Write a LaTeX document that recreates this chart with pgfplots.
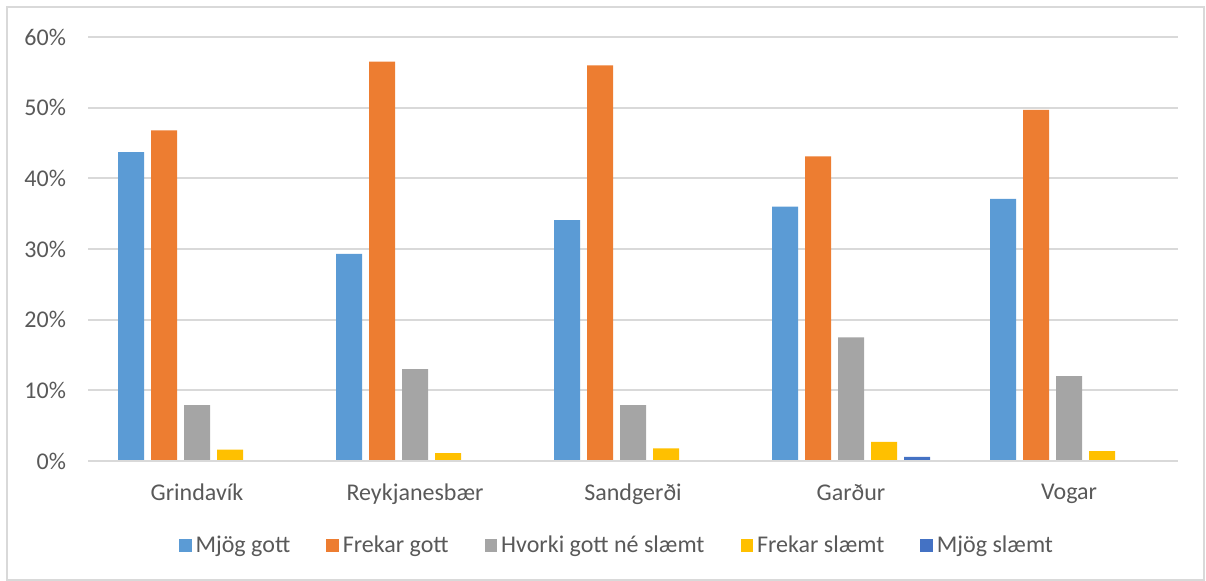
\documentclass[border=0pt]{standalone}
\usepackage{pgfplots}
\pgfplotsset{compat=1.18}
\usepackage{fontspec}
\setmainfont{Carlito}
\definecolor{cblue}{RGB}{91,155,213}
\definecolor{corange}{RGB}{237,125,49}
\definecolor{cgray}{RGB}{165,165,165}
\definecolor{cyellow}{RGB}{255,192,0}
\definecolor{cdblue}{RGB}{68,114,196}
\definecolor{gridgray}{RGB}{217,217,217}
\definecolor{textgray}{RGB}{89,89,89}
\begin{document}
% 1 px of the reference = 0.5pt
\begin{tikzpicture}
\useasboundingbox (0pt,0pt) rectangle (603pt,290.5pt);
\draw[gridgray, line width=1pt] (3.5pt,0.5pt) rectangle (602pt,287pt);
\begin{axis}[
  at={(44pt,60pt)}, anchor=south west,
  scale only axis,
  width=545pt, height=212pt,
  xmin=-0.5, xmax=4.5,
  ymin=0, ymax=60,
  ytick={0,10,...,60},
  yticklabel={\pgfmathprintnumber{\tick}\%},
  xtick={0,1,2,3,4},
  xticklabels={Grindavík,Reykjanesbær,Sandgerði,Garður,Vogar},
  /pgf/number format/assume math mode=true,
  ymajorgrids, grid style={gridgray, line width=1pt},
  axis line style={draw=none},
  axis x line*=bottom,
  major tick length=0pt,
  tick label style={font=\fontsize{12}{14}\selectfont, text=textgray},
  yticklabel style={xshift=-7.5pt},
  xticklabel style={yshift=-8pt},
  ybar=3.5pt, bar width=13pt,
  clip=false,
  legend columns=5,
  legend style={at={(0.5,0)}, anchor=center, yshift=-42.5pt, xshift=-7.5pt, draw=none,
    font=\fontsize{12}{14}\selectfont, text=textgray,
    /tikz/every even column/.append style={column sep=16pt}},
  legend image code/.code={\fill[#1] (0pt,-3pt) rectangle (6.3pt,3.3pt);},
]
\addplot[fill=cblue, draw=none] coordinates {(0,43.7) (1,29.3) (2,34.1) (3,36.0) (4,37.1)};
\addplot[fill=corange, draw=none] coordinates {(0,46.8) (1,56.5) (2,56.0) (3,43.1) (4,49.7)};
\addplot[fill=cgray, draw=none] coordinates {(0,7.9) (1,13.0) (2,7.9) (3,17.5) (4,12.0)};
\addplot[fill=cyellow, draw=none] coordinates {(0,1.6) (1,1.1) (2,1.8) (3,2.7) (4,1.4)};
\addplot[fill=cdblue, draw=none] coordinates {(0,0) (1,0) (2,0) (3,0.57) (4,0)};
\legend{Mjög gott, Frekar gott, Hvorki gott né slæmt, Frekar slæmt, Mjög slæmt}
\draw[gridgray, line width=1pt] (axis cs:-0.5,0) -- (axis cs:4.5,0);
\end{axis}
\end{tikzpicture}
\end{document}
